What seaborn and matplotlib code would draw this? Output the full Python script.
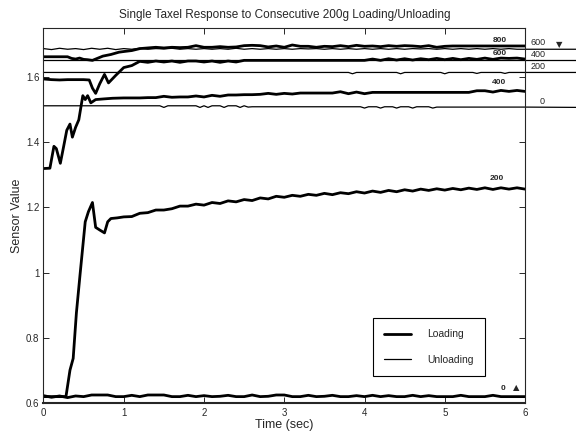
import matplotlib
matplotlib.use("Agg")
import matplotlib.pyplot as plt
from matplotlib.lines import Line2D
import seaborn as sns

sns.set_style("ticks")
plt.rcParams["font.family"] = ["Liberation Sans", "DejaVu Sans"]

# sample times (sec)
t_head = [0.0, 0.1, 0.2, 0.3, 0.4, 0.5, 0.6, 0.7, 0.8, 0.9]
t_tail = [1.0, 1.1, 1.2, 1.3, 1.4, 1.5, 1.6, 1.7, 1.8, 1.9,
          2.0, 2.1, 2.2, 2.3, 2.4, 2.5, 2.6, 2.7, 2.8, 2.9,
          3.0, 3.1, 3.2, 3.3, 3.4, 3.5, 3.6, 3.7, 3.8, 3.9,
          4.0, 4.1, 4.2, 4.3, 4.4, 4.5, 4.6, 4.7, 4.8, 4.9,
          5.0, 5.1, 5.2, 5.3, 5.4, 5.5, 5.6, 5.7, 5.8, 5.9,
          6.0]

# ---- loading curves (thick) ----
load0_t = t_head + t_tail
load0_v = [0.624, 0.619, 0.623, 0.618, 0.623, 0.621, 0.626, 0.626, 0.626, 0.621,
           0.621, 0.625, 0.621, 0.626, 0.626, 0.626, 0.621, 0.621, 0.625, 0.621,
           0.624, 0.621, 0.622, 0.625, 0.621, 0.621, 0.626, 0.621, 0.622, 0.626,
           0.626, 0.621, 0.621, 0.625, 0.621, 0.622, 0.625, 0.621, 0.621, 0.624,
           0.621, 0.625, 0.621, 0.624, 0.621, 0.621, 0.625, 0.621, 0.624, 0.621,
           0.621, 0.621, 0.625, 0.621, 0.621, 0.621, 0.625, 0.621, 0.621, 0.621,
           0.621]

load200_t = [0.0, 0.1, 0.2, 0.28, 0.33, 0.37, 0.41, 0.455, 0.52, 0.56,
             0.61, 0.65, 0.70, 0.76, 0.80, 0.84, 0.92] + t_tail
load200_v = [0.621, 0.621, 0.621, 0.621, 0.702, 0.738, 0.877, 0.993, 1.156, 1.187,
             1.215, 1.139, 1.131, 1.122, 1.156, 1.166, 1.168,
             1.171, 1.172, 1.182, 1.184, 1.192, 1.192, 1.196, 1.204, 1.204, 1.210,
             1.207, 1.215, 1.212, 1.220, 1.217, 1.224, 1.221, 1.229, 1.226, 1.234,
             1.231, 1.237, 1.234, 1.240, 1.237, 1.243, 1.239, 1.245, 1.242, 1.248,
             1.244, 1.250, 1.246, 1.252, 1.248, 1.254, 1.250, 1.256, 1.252, 1.257,
             1.253, 1.258, 1.254, 1.259, 1.255, 1.260, 1.255, 1.260, 1.256, 1.260,
             1.256]

load400_t = [0.0, 0.08, 0.13, 0.16, 0.21, 0.25, 0.29, 0.33, 0.36, 0.40,
             0.44, 0.49, 0.52, 0.55, 0.59, 0.65, 0.75, 0.86] + t_tail
load400_v = [1.319, 1.320, 1.387, 1.380, 1.335, 1.385, 1.436, 1.455, 1.415, 1.445,
             1.468, 1.542, 1.530, 1.542, 1.520, 1.530, 1.532, 1.534,
             1.535, 1.535, 1.535, 1.536, 1.536, 1.540, 1.537, 1.538, 1.538, 1.541,
             1.538, 1.543, 1.540, 1.544, 1.544, 1.545, 1.545, 1.546, 1.549, 1.546,
             1.549, 1.547, 1.550, 1.550, 1.550, 1.550, 1.550, 1.554, 1.548, 1.553,
             1.548, 1.552, 1.552, 1.552, 1.552, 1.552, 1.552, 1.552, 1.552, 1.552,
             1.552, 1.552, 1.552, 1.552, 1.557, 1.557, 1.553, 1.558, 1.555, 1.558,
             1.555]

load600_t = [0.0, 0.1, 0.2, 0.3, 0.4, 0.5, 0.57, 0.61, 0.65, 0.70,
             0.76, 0.81, 0.90] + t_tail
load600_v = [1.593, 1.591, 1.590, 1.591, 1.591, 1.591, 1.590, 1.565, 1.549, 1.578,
             1.607, 1.581, 1.604,
             1.628, 1.634, 1.647, 1.644, 1.648, 1.645, 1.648, 1.644, 1.648, 1.648,
             1.645, 1.648, 1.644, 1.648, 1.645, 1.650, 1.650, 1.650, 1.650, 1.650,
             1.650, 1.650, 1.650, 1.650, 1.650, 1.650, 1.650, 1.650, 1.650, 1.650,
             1.650, 1.654, 1.650, 1.655, 1.651, 1.655, 1.651, 1.655, 1.652, 1.656,
             1.652, 1.656, 1.652, 1.656, 1.653, 1.657, 1.653, 1.657, 1.656, 1.657,
             1.654]

load800_t = [0.0, 0.1, 0.2, 0.3, 0.35, 0.4, 0.45, 0.5, 0.55, 0.61,
             0.67, 0.74, 0.84, 0.94] + t_tail
load800_v = [1.661, 1.661, 1.661, 1.661, 1.656, 1.654, 1.657, 1.653, 1.652, 1.650,
             1.656, 1.663, 1.668, 1.675,
             1.677, 1.680, 1.686, 1.688, 1.690, 1.688, 1.690, 1.689, 1.690, 1.695,
             1.690, 1.690, 1.692, 1.690, 1.691, 1.695, 1.696, 1.695, 1.691, 1.694,
             1.690, 1.697, 1.693, 1.693, 1.690, 1.693, 1.692, 1.695, 1.692, 1.696,
             1.693, 1.694, 1.692, 1.695, 1.693, 1.695, 1.694, 1.692, 1.695, 1.690,
             1.693, 1.694, 1.694, 1.694, 1.694, 1.694, 1.694, 1.694, 1.694, 1.694,
             1.694]

# ---- unloading curves (thin, run past the right edge of the axes) ----
unl0_t = [0.0, 1.45, 1.5, 1.55, 1.9, 1.95, 2.0, 2.05, 2.1, 2.2,
          2.25, 2.3, 2.4, 2.45, 2.5, 2.55, 2.6, 3.95, 4.0, 4.05,
          4.15, 4.2, 4.25, 4.35, 4.4, 4.45, 4.55, 4.6, 4.65, 4.8,
          4.85, 4.9, 6.0, 6.7]
unl0_v = [1.511, 1.511, 1.506, 1.511, 1.511, 1.506, 1.511, 1.506, 1.511, 1.511,
          1.506, 1.511, 1.511, 1.506, 1.511, 1.507, 1.508, 1.508, 1.504, 1.508,
          1.508, 1.504, 1.508, 1.508, 1.504, 1.508, 1.508, 1.504, 1.508, 1.508,
          1.504, 1.507, 1.507, 1.506]

unl200_t = [0.0, 3.8, 3.85, 3.9, 4.4, 4.45, 4.5, 4.95, 5.0, 5.05,
            5.35, 5.4, 5.45, 5.7, 5.75, 5.8, 6.7]
unl200_v = [1.613, 1.613, 1.609, 1.613, 1.613, 1.609, 1.613, 1.613, 1.609, 1.613,
            1.613, 1.610, 1.613, 1.613, 1.610, 1.613, 1.613]

unl400_t = [0.0, 6.7]
unl400_v = [1.650, 1.650]

unl600_t = t_head + t_tail + [6.7]
unl600_v = [1.686, 1.683, 1.687, 1.684, 1.686, 1.683, 1.687, 1.684, 1.687, 1.683,
            1.686, 1.684, 1.687, 1.684, 1.686, 1.685, 1.687, 1.684, 1.686, 1.684,
            1.686, 1.684, 1.686, 1.684, 1.687, 1.684, 1.686, 1.684, 1.686, 1.684,
            1.686, 1.684, 1.686, 1.685, 1.686, 1.684, 1.686, 1.684, 1.686, 1.684,
            1.686, 1.684, 1.686, 1.684, 1.686, 1.684, 1.686, 1.685, 1.686, 1.684,
            1.686, 1.684, 1.686, 1.684, 1.686, 1.684, 1.686, 1.684, 1.686, 1.684,
            1.684, 1.684]

loading = [(load0_t, load0_v), (load200_t, load200_v), (load400_t, load400_v),
           (load600_t, load600_v), (load800_t, load800_v)]
unloading = [(unl0_t, unl0_v), (unl200_t, unl200_v), (unl400_t, unl400_v),
             (unl600_t, unl600_v)]

fig = plt.figure(figsize=(5.76, 4.38), dpi=100)
ax = fig.add_axes([0.0755, 0.0788, 0.836, 0.858])

for t, v in unloading:
    sns.lineplot(x=t, y=v, ax=ax, color="black", linewidth=0.9,
                 estimator=None, sort=False, clip_on=False)
for t, v in loading:
    sns.lineplot(x=t, y=v, ax=ax, color="black", linewidth=2.0,
                 estimator=None, sort=False)

ax.set_xlim(0, 6)
ax.set_ylim(0.6, 1.75)
ax.set_xticks([0, 1, 2, 3, 4, 5, 6])
ax.set_yticks([0.6, 0.8, 1.0, 1.2, 1.4, 1.6])
ax.set_yticklabels(["0.6", "0.8", "1", "1.2", "1.4", "1.6"])
ax.tick_params(direction="in", length=4, width=0.7, labelsize=7,
               top=True, right=True, pad=3)
for s in ax.spines.values():
    s.set_linewidth(0.8)
ax.spines["bottom"].set_linewidth(1.5)

ax.set_title("Single Taxel Response to Consecutive 200g Loading/Unloading",
             fontsize=8.5, pad=7)
ax.set_xlabel("Time (sec)", fontsize=9, labelpad=1)
ax.set_ylabel("Sensor Value", fontsize=9, labelpad=2)

# weight labels on the curves
for txt, x, y in [("800", 5.68, 1.712), ("600", 5.69, 1.671), ("400", 5.67, 1.582),
                  ("200", 5.65, 1.289), ("0", 5.73, 0.645)]:
    ax.text(x, y, txt, fontsize=6, fontweight="bold", ha="center", va="center")
ax.text(5.885, 0.648, "\u25B2", fontsize=6, ha="center", va="center",
        family="DejaVu Sans")

# unloading weight labels outside the axes
for txt, x, y in [("600", 6.07, 1.706), ("400", 6.07, 1.668), ("200", 6.07, 1.63)]:
    ax.text(x, y, txt, fontsize=6.5, ha="left", va="center", clip_on=False)
ax.text(6.21, 1.525, "0", fontsize=6.5, ha="center", va="center", clip_on=False)
ax.text(6.43, 1.698, "\u25BC", fontsize=6, ha="center", va="center",
        family="DejaVu Sans", clip_on=False)

handles = [Line2D([], [], color="black", linewidth=2.0),
           Line2D([], [], color="black", linewidth=0.9)]
leg = ax.legend(handles, ["Loading", "Unloading"], loc="upper left",
                bbox_to_anchor=(0.684, 0.2275), borderaxespad=0,
                fontsize=7.5, frameon=True, fancybox=False, framealpha=1,
                edgecolor="black", handlelength=2.6, handletextpad=1.5,
                labelspacing=1.45, borderpad=1.1)
leg.get_frame().set_linewidth(0.8)

fig.savefig("out.png", dpi=100)
